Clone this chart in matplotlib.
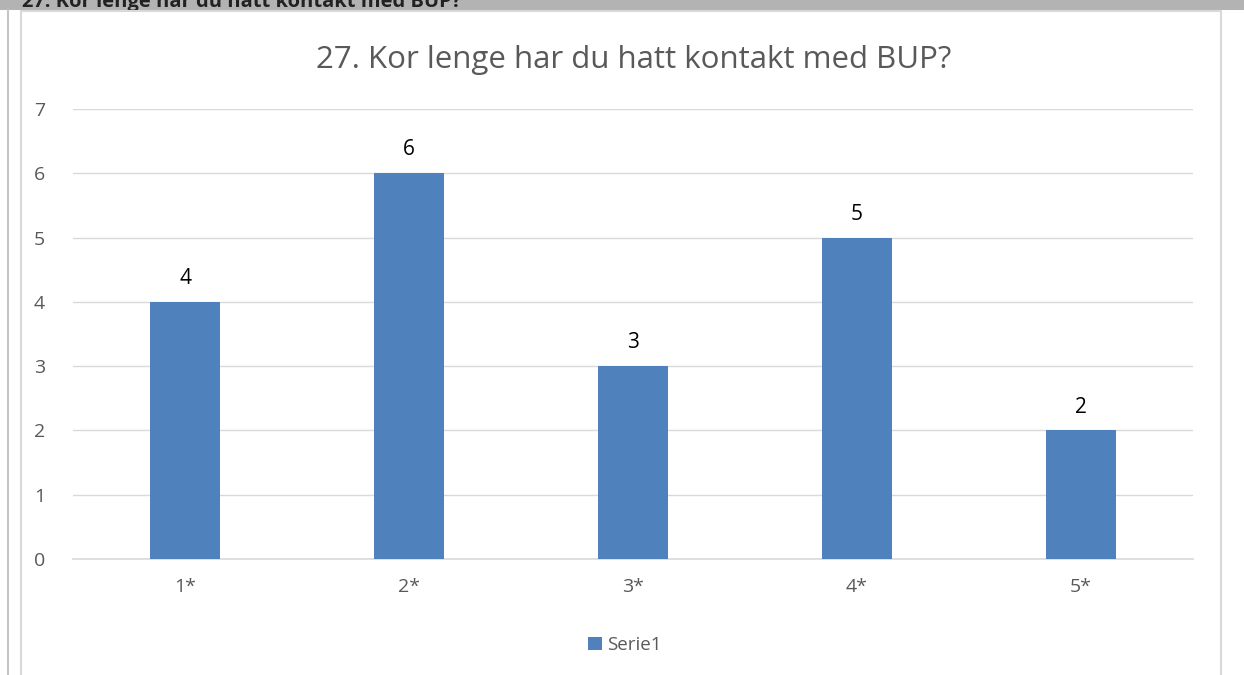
import matplotlib
matplotlib.use("Agg")
import matplotlib.pyplot as plt
from matplotlib.patches import Rectangle

categories = ["1*", "2*", "3*", "4*", "5*"]
values = [4, 6, 3, 5, 2]
series_name = "Serie1"
title = "27. Kor lenge har du hatt kontakt med BUP?"

plt.rcParams['font.family'] = ['Open Sans', 'DejaVu Sans']

W, H = 1244, 675
fig = plt.figure(figsize=(W / 100, H / 100), dpi=100)

# grey header band with cut-off heading
band = fig.add_axes([0, 1 - 10 / H, 1, 10 / H])
band.set_facecolor('#b3b3b3')
band.set_xlim(0, W)
band.set_ylim(10, 0)
band.axis('off')
band.add_patch(Rectangle((0, 0), W, 10, color='#b3b3b3'))
band.text(22, 6.5, title, fontsize=14.5, fontweight='bold', color='#222222',
          va='baseline', ha='left', clip_on=True)

# frame lines
fig.add_artist(plt.Line2D([8 / W, 8 / W], [0, 1 - 10 / H], transform=fig.transFigure,
                          color='#c4c4c4', lw=1.5))
fig.add_artist(plt.Line2D([21 / W, 21 / W, 1221 / W, 1221 / W],
                          [0, 1 - 11 / H, 1 - 11 / H, 0], transform=fig.transFigure,
                          color='#d9d9d9', lw=1.5))

ax = fig.add_axes([73 / W, 1 - 559 / H, 1120 / W, 450 / H])
x = range(len(categories))
bars = ax.bar(x, values, width=0.31, color='#4f81bd', label=series_name, zorder=3)
for xi, v in zip(x, values):
    ax.text(xi, v + 0.2, str(v), ha='center', va='bottom', fontsize=15, color='black')

ax.set_ylim(0, 7)
ax.set_xlim(-0.5, len(categories) - 0.5)
ax.set_yticks(range(0, 8))
ax.set_xticks(list(x))
ax.set_xticklabels(categories)
ax.grid(axis='y', color='#d9d9d9', lw=1, zorder=0)
for s in ['top', 'right', 'left']:
    ax.spines[s].set_visible(False)
ax.spines['bottom'].set_color('#d9d9d9')
ax.spines['bottom'].set_linewidth(1.2)
ax.tick_params(length=0, labelsize=14, colors='#595959')
ax.tick_params(axis='y', pad=20)
ax.tick_params(axis='x', pad=14)

fig.text(634 / W, 1 - 60 / H, title, ha='center', va='center', fontsize=22.5, color='#595959')

fig.legend(loc='center', bbox_to_anchor=(625 / W, 1 - 645 / H), frameon=False,
           fontsize=13.5, handlelength=0.7, handleheight=0.7, handletextpad=0.3,
           labelcolor='#595959')

fig.savefig('out.png', dpi=100)
